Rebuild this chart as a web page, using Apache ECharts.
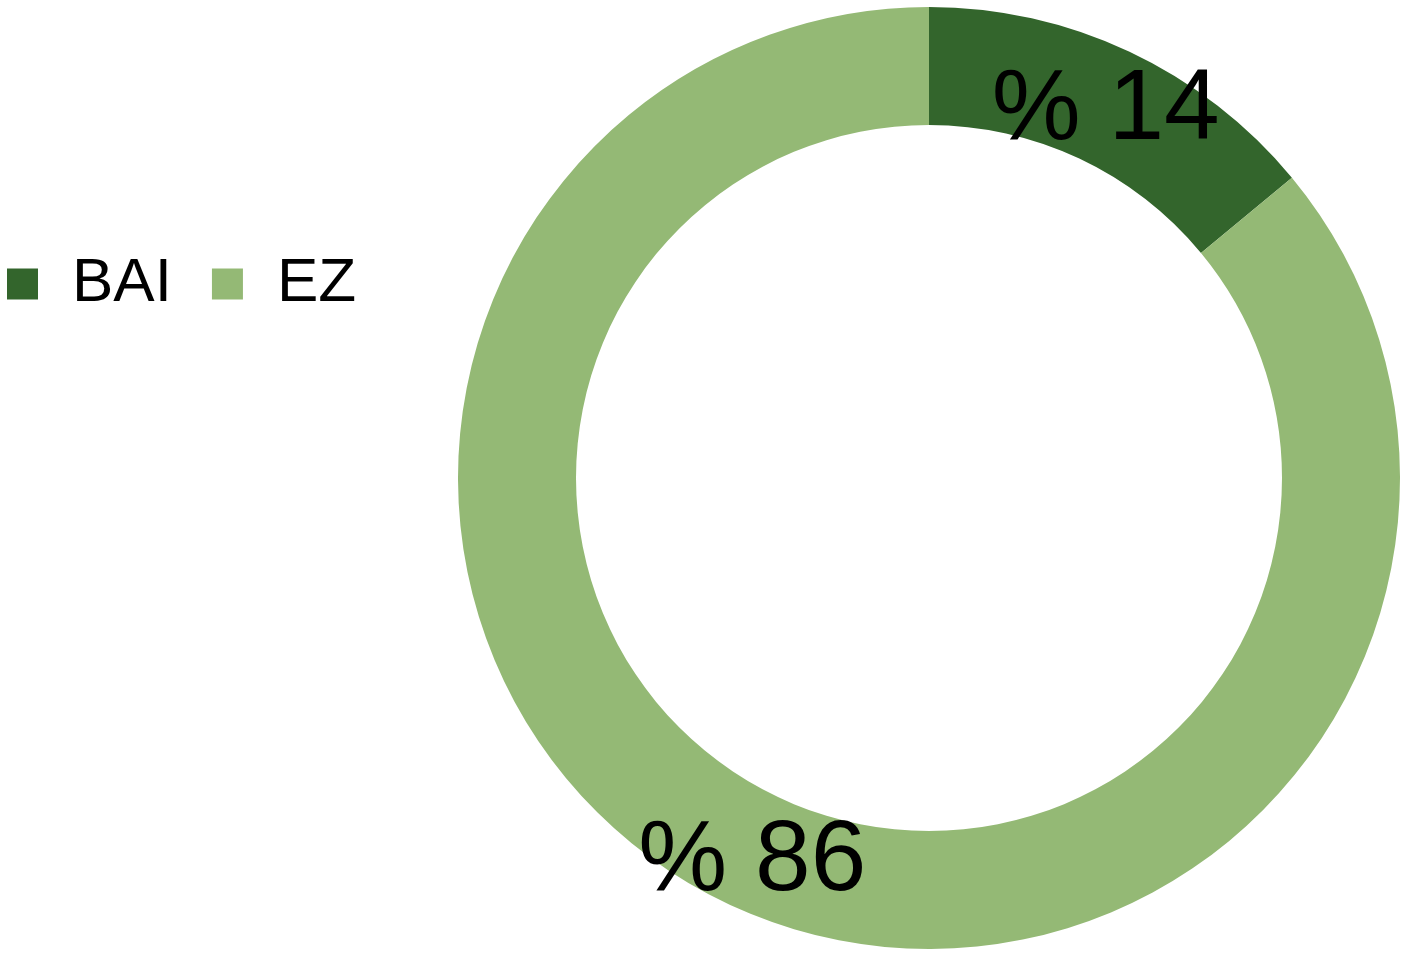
<!DOCTYPE html>
<html>
<head>
<meta charset="utf-8">
<script src="https://cdn.jsdelivr.net/npm/echarts@6/dist/echarts.min.js"></script>
<style>html,body{margin:0;padding:0;background:#fff;}#c{width:1410px;height:953px;}</style>
</head>
<body>
<div id="c"></div>
<script>
const categories = ['BAI', 'EZ'];
const values = [14, 86];
const colors = ['#33652C', '#94B975'];

const chart = echarts.init(document.getElementById('c'), null, {renderer: 'canvas'});
chart.setOption({
  animation: false,
  color: colors,
  legend: {
    data: categories,
    orient: 'horizontal',
    left: 2,
    top: 248,
    icon: 'rect',
    itemWidth: 31,
    itemHeight: 31,
    itemGap: 40,
    selectedMode: false,
    textStyle: {
      fontFamily: 'Liberation Sans',
      fontSize: 62,
      color: '#000',
      padding: [0, 0, 0, 29]
    }
  },
  series: [{
    type: 'pie',
    center: [929, 478],
    radius: [353, 471],
    startAngle: 90,
    clockwise: true,
    avoidLabelOverlap: false,
    label: {
      show: true,
      position: 'inside',
      formatter: '{a|% {c}}',
      rich: {
        a: {
          fontFamily: 'Liberation Sans',
          fontSize: 100,
          color: '#000',
          padding: [18, 0, 0, 0]
        }
      }
    },
    labelLine: {show: false},
    emphasis: {disabled: true},
    data: categories.map((n, i) => ({name: n, value: values[i]}))
  }]
});
</script>
</body>
</html>
